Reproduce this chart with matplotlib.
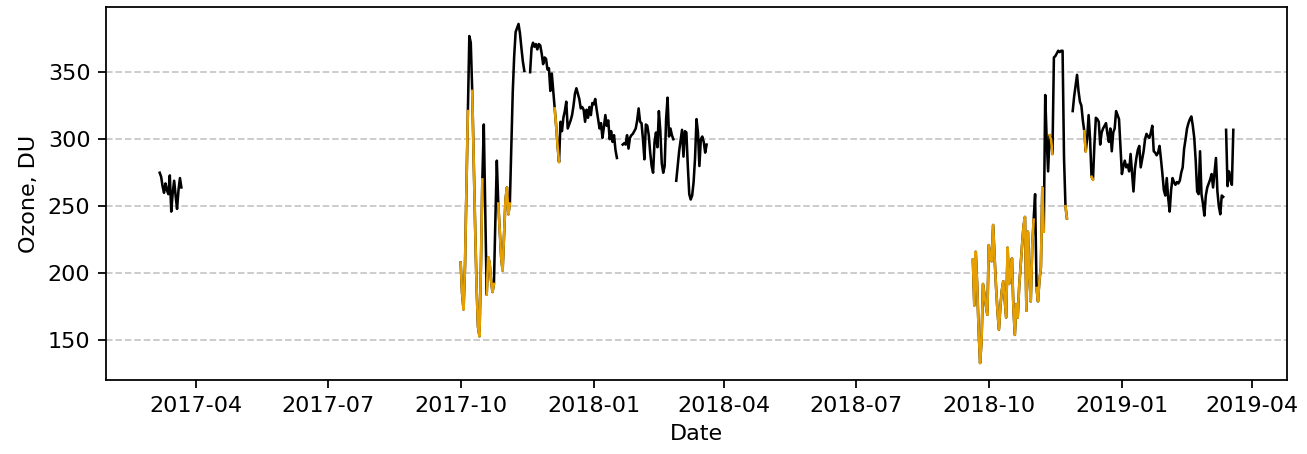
import numpy as np
import pandas as pd
import matplotlib
matplotlib.use("Agg")
import matplotlib.pyplot as plt
import matplotlib.dates as mdates

# daily total ozone (DU), three observation periods; None = missing day
seg1_start = "2017-03-07"
seg1_values = [275, 272, 265, 260, 267, 262, 259, 273, 246, 260, 269, 258,
               248, 262, 271, 264]

seg2_start = "2017-10-01"
seg2_values = [
    208, 185, 173, 205, 265, 321, 377, 372, 336, 285,
    235, 190, 160, 153, 205, 270, 311, 245, 184, 212,
    208, 195, 186, 192, 240, 284, 252, 232, 212, 202,
    228, 255, 264, 244, 252, 292, 335, 362, 380, 383,
    386, 379, 368, 358, 351, None, None, None, 350, 368,
    372, 369, 371, 367, 371, 370, 364, 356, 361, 360,
    352, 353, 336, 349, 336, 323, 310, 295, 283, 313,
    306, 316, 321, 328, 308, 311, 314, 318, 325, 334,
    338, 334, 330, 323, 324, 322, 313, 322, 316, 324,
    318, 327, 326, 330, 322, 315, 308, 312, 301, 309,
    318, 310, 314, 300, 306, 298, 303, 292, 286, None,
    None, None, 296, 297, 296, 303, 293, 301, 303, 304,
    306, 308, 314, 323, 313, 312, 300, 285, 311, 310,
    303, 290, 280, 275, 298, 305, 294, 321, 306, 282,
    275, 280, 315, 331, 302, 308, 303, 300, None, 269,
    280, 291, 299, 307, 287, 306, 305, 280, 259, 255,
    258, 268, 286, 315, 305, 280, 300, 302, 298, 290, 296,
]

seg3_start = "2018-09-20"
seg3_values = [
    210, 176, 216, 190, 157, 133, 150, 192, 184, 176,
    169, 221, 212, 209, 236, 212, 190, 172, 158, 175,
    187, 194, 180, 167, 219, 192, 200, 211, 175, 154,
    177, 167, 190, 206, 221, 235, 242, 172, 231, 200,
    179, 219, 240, 259, 189, 179, 195, 204, 264, 231,
    333, 300, 276, 303, 300, 289, 361, 362, 364, 366,
    365, 366, 366, 286, 250, 241, None, None, None, 321,
    332, 340, 348, 336, 328, 325, 314, 306, 291, 301,
    318, 300, 272, 270, 296, 316, 315, 313, 296, 305,
    308, 310, 312, 304, 298, 308, 291, 305, 308, 321,
    318, 315, 295, 274, 280, 284, 279, 281, 276, 289,
    275, 261, 278, 286, 292, 295, 279, 285, 291, 300,
    304, 302, 301, 305, 310, 291, 290, 288, 290, 295,
    285, 274, 262, 258, 271, 256, 246, 262, 271, 268,
    266, 268, 267, 269, 275, 279, 293, 300, 308, 312,
    315, 317, 310, 301, 284, 261, 259, 291, 259, 252,
    243, 258, 264, 267, 270, 274, 264, 275, 286, 261,
    250, 244, 258, 257, None, 307, 265, 276, 270, 266, 307,
]

# periods highlighted in orange
flag_start = ["2017-10-01", "2017-10-09", "2017-10-19", "2017-10-27", "2017-12-05",
              "2018-09-20", "2018-11-03", "2018-11-12", "2018-11-23", "2018-12-06",
              "2018-12-11"]
flag_end = ["2017-10-06", "2017-10-16", "2017-10-24", "2017-11-04", "2017-12-08",
            "2018-11-01", "2018-11-08", "2018-11-14", "2018-11-24", "2018-12-07",
            "2018-12-12"]


def to_series(start, values):
    idx = pd.date_range(start, periods=len(values), freq="D")
    return pd.Series([np.nan if v is None else v for v in values], index=idx, dtype=float)


ozone = pd.concat([to_series(seg1_start, seg1_values),
                   to_series(seg2_start, seg2_values),
                   to_series(seg3_start, seg3_values)]).asfreq("D")

flag = pd.Series(False, index=ozone.index)
for a, b in zip(flag_start, flag_end):
    flag[a:b] = True
highlight = ozone.where(flag)

fig = plt.figure(figsize=(1307 / 160, 454 / 160), dpi=160)
ax = fig.add_axes([0.0811, 0.163, 0.9036, 0.8216])
ax.plot(ozone.index, ozone.values, color="black", linewidth=1.15)
ax.plot(highlight.index, highlight.values, color="#e69f00", linewidth=1.15)

ax.xaxis.set_major_locator(mdates.MonthLocator(bymonth=[1, 4, 7, 10]))
ax.xaxis.set_major_formatter(mdates.DateFormatter("%Y-%m"))
ax.set_yticks([150, 200, 250, 300, 350])
ax.grid(axis="y", linestyle="--", alpha=0.7)
ax.set_xlabel("Date")
ax.set_ylabel("Ozone, DU")

fig.savefig("out.png", dpi=160)
